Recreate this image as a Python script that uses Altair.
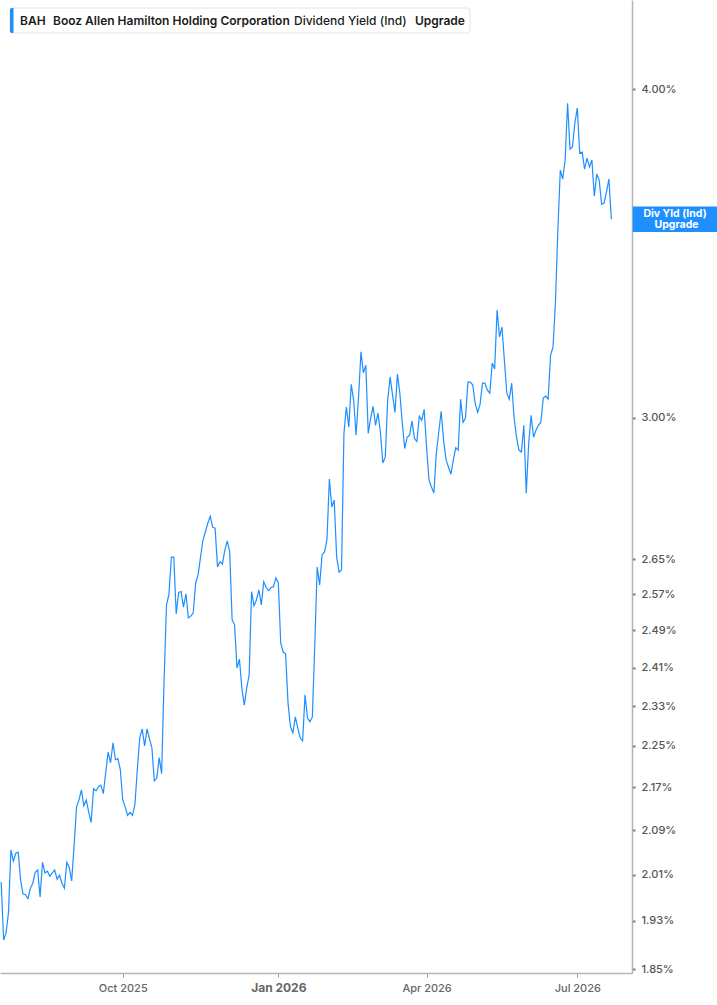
import altair as alt
import pandas as pd

# Dividend yield (%) per trading day
yield_pct = [
    1.997, 1.898, 1.910, 1.944, 2.054, 2.034, 2.048, 2.050, 2.000, 1.976,
    1.975, 1.968, 1.986, 1.995, 2.014, 2.018, 1.971, 2.032, 2.013, 2.016,
    2.007, 2.013, 2.018, 2.002, 2.009, 1.995, 1.986, 2.032, 2.023, 1.999,
    2.063, 2.133, 2.146, 2.165, 2.135, 2.146, 2.123, 2.104, 2.167, 2.163,
    2.171, 2.174, 2.158, 2.198, 2.238, 2.217, 2.256, 2.223, 2.225, 2.204,
    2.146, 2.133, 2.117, 2.123, 2.117, 2.137, 2.204, 2.266, 2.284, 2.250,
    2.284, 2.264, 2.246, 2.182, 2.187, 2.227, 2.196, 2.383, 2.546, 2.569,
    2.655, 2.655, 2.526, 2.574, 2.576, 2.541, 2.571, 2.517, 2.521, 2.528,
    2.596, 2.614, 2.655, 2.695, 2.714, 2.735, 2.752, 2.725, 2.723, 2.632,
    2.644, 2.639, 2.671, 2.693, 2.667, 2.513, 2.502, 2.409, 2.428, 2.367,
    2.332, 2.367, 2.394, 2.576, 2.544, 2.557, 2.580, 2.546, 2.598, 2.585,
    2.578, 2.585, 2.587, 2.607, 2.596, 2.462, 2.443, 2.439, 2.336, 2.288,
    2.276, 2.308, 2.286, 2.266, 2.260, 2.353, 2.306, 2.298, 2.308, 2.458,
    2.632, 2.591, 2.660, 2.667, 2.695, 2.843, 2.774, 2.791, 2.655, 2.620,
    2.625, 2.959, 3.028, 2.975, 3.089, 3.046, 2.954, 3.054, 3.178, 3.120,
    3.141, 2.959, 2.999, 3.030, 2.980, 3.012, 2.962, 2.883, 2.898, 3.046,
    3.109, 3.060, 3.014, 3.117, 3.065, 2.985, 2.920, 2.949, 2.954, 2.991,
    2.946, 2.938, 3.004, 2.993, 3.022, 2.922, 2.840, 2.823, 2.808, 2.908,
    2.962, 3.017, 2.941, 2.891, 2.873, 2.855, 2.891, 2.922, 2.916, 3.049,
    2.988, 2.999, 3.095, 3.095, 3.087, 3.038, 3.014, 3.035, 3.092, 3.092,
    3.073, 3.065, 3.147, 3.131, 3.297, 3.220, 3.248, 3.155, 3.065, 3.049,
    3.092, 2.999, 2.949, 2.916, 2.911, 2.980, 2.808, 2.933, 3.006, 2.949,
    2.967, 2.980, 2.988, 3.052, 3.057, 3.049, 3.169, 3.191, 3.317, 3.536,
    3.727, 3.698, 3.760, 3.952, 3.796, 3.803, 3.884, 3.935, 3.783, 3.786,
    3.730, 3.766, 3.737, 3.760, 3.643, 3.714, 3.694, 3.617, 3.621, 3.656,
    3.698, 3.570,
]

# x-axis: trading-day index of the first session of each labelled month
x_tick_index = [50, 114, 175, 237]
x_tick_labels = ["Oct 2025", "Jan 2026", "Apr 2026", "Jul 2026"]
x_bold_index = 114

# y-axis ticks (log scale)
y_ticks = [1.85, 1.93, 2.01, 2.09, 2.17, 2.25, 2.33, 2.41, 2.49, 2.57, 2.65, 3.00, 4.00]

legend_ticker = "BAH"
legend_company = "Booz Allen Hamilton Holding Corporation"
legend_metric = "Dividend Yield (Ind)"
legend_action = "Upgrade"
tag_line1 = "Div Yld (Ind)"
tag_line2 = "Upgrade"

BLUE = "#1e8fff"
FONT = "Inter"

df = pd.DataFrame({"t": list(range(len(yield_pct))), "v": yield_pct})
last = df.tail(1)

label_expr = "".join(
    f"datum.value == {i} ? '{l}' : " for i, l in zip(x_tick_index, x_tick_labels)
) + "''"

x_enc = alt.X(
    "t:Q",
    scale=alt.Scale(domain=[-0.49, 259.5], nice=False, zero=False),
    axis=alt.Axis(
        values=x_tick_index,
        labelExpr=label_expr,
        title=None,
        grid=False,
        domainColor="#b5b5b5",
        domainWidth=1.5,
        tickColor="#9a9a9a",
        tickSize=4,
        tickWidth=1,
        labelColor="#666666",
        labelFont=FONT,
        labelFontSize={"condition": {"test": f"datum.value == {x_bold_index}", "value": 12}, "value": 11},
        labelFontWeight={"condition": {"test": f"datum.value == {x_bold_index}", "value": "bold"}, "value": 500},
        labelPadding=5,
        labelFlush=False,
        labelOverlap=False,
    ),
)

y_enc = alt.Y(
    "v:Q",
    scale=alt.Scale(type="log", domain=[1.844, 4.326], nice=False, zero=False),
    axis=alt.Axis(
        orient="right",
        values=y_ticks,
        labelExpr="format(datum.value, '.2f') + '%'",
        title=None,
        grid=False,
        domainColor="#b5b5b5",
        domainWidth=1.5,
        tickColor="#777777",
        tickSize=3,
        tickWidth=2,
        labelColor="#555555",
        labelFont=FONT,
        labelFontSize=11,
        labelFontWeight=500,
        labelPadding=6,
        labelFlush=False,
        labelOverlap=False,
    ),
)

line = alt.Chart(df).mark_line(color=BLUE, strokeWidth=1.2).encode(x=x_enc, y=y_enc)

# last-value tag: a wide rectangle symbol (unit path scaled by sqrt(size)/2)
tag_band = alt.Chart(last).mark_point(
    shape="M-1,-0.3L1,-0.3L1,0.3L-1,0.3Z", size=7225, filled=True,
    fill=BLUE, fillOpacity=1, strokeWidth=0, opacity=1
).encode(x=alt.value(675.25), y=y_enc)
tag_t1 = alt.Chart(last).mark_text(
    text=tag_line1, color="white", font=FONT, fontSize=10.5, fontWeight="bold",
    align="center", baseline="middle", dy=-5.6
).encode(x=alt.value(675), y=y_enc)
tag_t2 = alt.Chart(last).mark_text(
    text=tag_line2, color="white", font=FONT, fontSize=10.5, fontWeight="bold",
    align="center", baseline="middle", dy=5.6
).encode(x=alt.value(676.5), y=y_enc)

legend_box = alt.Chart(last).mark_rect(
    fill="white", stroke="#e3e3e3", strokeWidth=1, cornerRadius=3
).encode(x=alt.value(10), x2=alt.value(470), y=alt.value(8), y2=alt.value(33))
legend_bar = alt.Chart(last).mark_rect(
    fill=BLUE, cornerRadiusTopLeft=3, cornerRadiusBottomLeft=3
).encode(x=alt.value(10), x2=alt.value(13.5), y=alt.value(8), y2=alt.value(33))


def legend_text(txt, xpos, weight):
    return alt.Chart(last).mark_text(
        text=txt, color="#1a1a1a", font=FONT, fontSize=12, fontWeight=weight,
        align="left", baseline="middle"
    ).encode(x=alt.value(xpos), y=alt.value(20.5))


chart = alt.layer(
    line, tag_band, tag_t1, tag_t2, legend_box, legend_bar,
    legend_text(legend_ticker, 20, 600),
    legend_text(legend_company, 53, 600),
    legend_text(legend_metric, 294, 500),
    legend_text(legend_action, 415, 600),
).properties(
    width=632, height=973,
    autosize=alt.AutoSizeParams(type="none"),
    padding={"left": 0, "top": 0, "right": 85, "bottom": 32},
    background="white",
).configure_view(stroke=None)

chart.save("out.html", embed_options={"renderer": "svg", "actions": False})
